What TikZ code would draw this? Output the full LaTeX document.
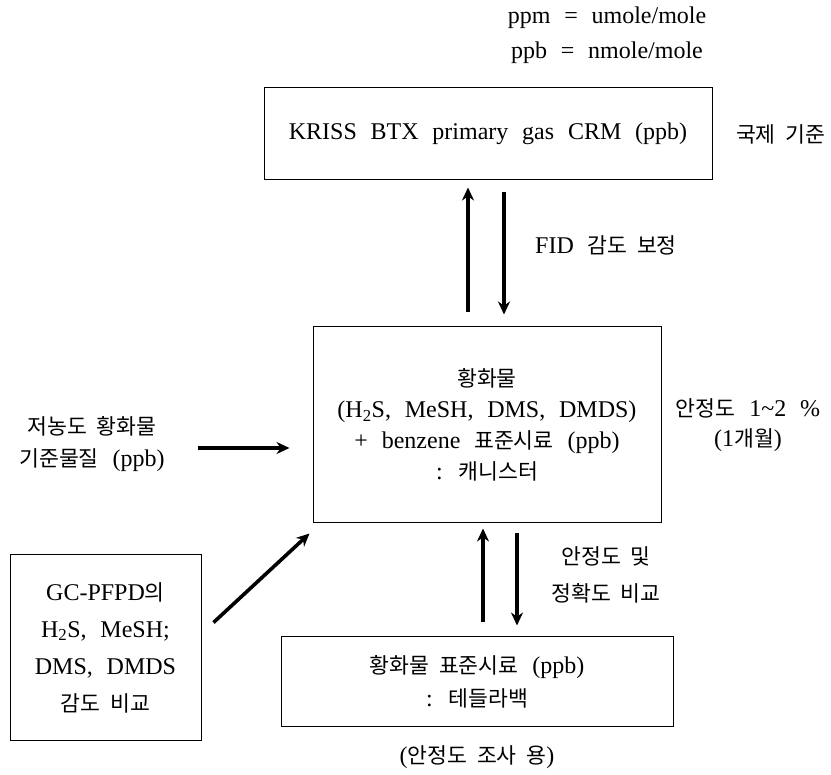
\documentclass[tikz,border=0pt]{standalone}
\usepackage{fontspec}
\setmainfont[WordSpace=2.3]{Liberation Serif}
\newfontfamily\kr[Scale=0.9,WordSpace=2]{Noto Sans CJK KR}
\usetikzlibrary{
arrows.meta,
positioning
}
\tikzset{>={Stealth[length=13pt,width=12pt]}}

\begin{document}
\begin{tikzpicture}[x=1pt, y=-1pt, font=\fontsize{24}{33}\selectfont,
		box/.style={draw, line width=1pt, align=center, inner sep=0pt},
		arr/.style={->, line width=3.6pt}]
		\useasboundingbox (0,0) rectangle (831,775);
		\node[align=center]                                   (units)   at (607,35)    {ppm = umole/mole\\[2pt]ppb = nmole/mole};
		\node[box, minimum width=448, minimum height=92]      (crm)     at (488,134)   {KRISS BTX primary gas CRM (ppb)};
		\node[right=20pt of crm]                              (intl)    {\kr 국제 기준};
		\node[box, minimum width=348, minimum height=196,
		      font=\fontsize{24}{31}\selectfont]              (canister) at (487,425)  {{\kr 황화물}\\(H\textsubscript{2}S, MeSH, DMS, DMDS)\\+ benzene {\kr 표준시료} (ppb)\\: {\kr 캐니스터}};
		\node[align=center, font=\fontsize{24}{30}\selectfont] (stab)   at (748,425)   {{\kr 안정도} 1\textasciitilde 2 \%\\(1{\kr 개월})};
		\node[align=center, font=\fontsize{24}{32}\selectfont] (lowconc) at (92,444)   {{\kr 저농도 황화물}\\{\kr 기준물질} (ppb)};
		\node[box, minimum width=191, minimum height=185,
		      font=\fontsize{24}{37}\selectfont]              (gcpfpd)  at (105.5,647.5) {GC-PFPD{\kr 의}\\H\textsubscript{2}S, MeSH;\\DMS, DMDS\\{\kr 감도 비교}};
		\node[box, minimum width=392, minimum height=89]      (tedlar)  at (477,681.5) {{\kr 황화물 표준시료} (ppb)\\: {\kr 테들라백}};
		\node[below=16pt of tedlar]                           (survey)  {({\kr 안정도 조사 용})};
		
		\node                                                 (fid)     at (606,245)   {FID {\kr 감도 보정}};
		\node[align=center, font=\fontsize{24}{37}\selectfont] (compare) at (606,575)  {{\kr 안정도 및}\\{\kr 정확도 비교}};
		
		\draw[arr, shorten <=14pt, shorten >=7pt]  ([xshift=-19pt]canister.north) -- ([xshift=-20pt]crm.south);
		\draw[arr, shorten <=12pt, shorten >=12pt] ([xshift=16pt]crm.south) -- ([xshift=17pt]canister.north);
		\draw[arr, shorten <=14pt, shorten >=5pt]  ([xshift=6pt]tedlar.north) -- ([xshift=-4pt]canister.south);
		\draw[arr, shorten <=10pt, shorten >=11pt] ([xshift=30pt]canister.south) -- ([xshift=40pt]tedlar.north);
		
		\draw[arr, shorten >=23pt] ([xshift=30pt,yshift=-4pt]lowconc.east) -- ([yshift=-4pt]lowconc.east -| canister.west);
		\draw[arr] ([xshift=12pt,yshift=25pt]gcpfpd.east) -- ([xshift=-3pt,yshift=-10pt]canister.south west);
	\end{tikzpicture}
\end{document}
